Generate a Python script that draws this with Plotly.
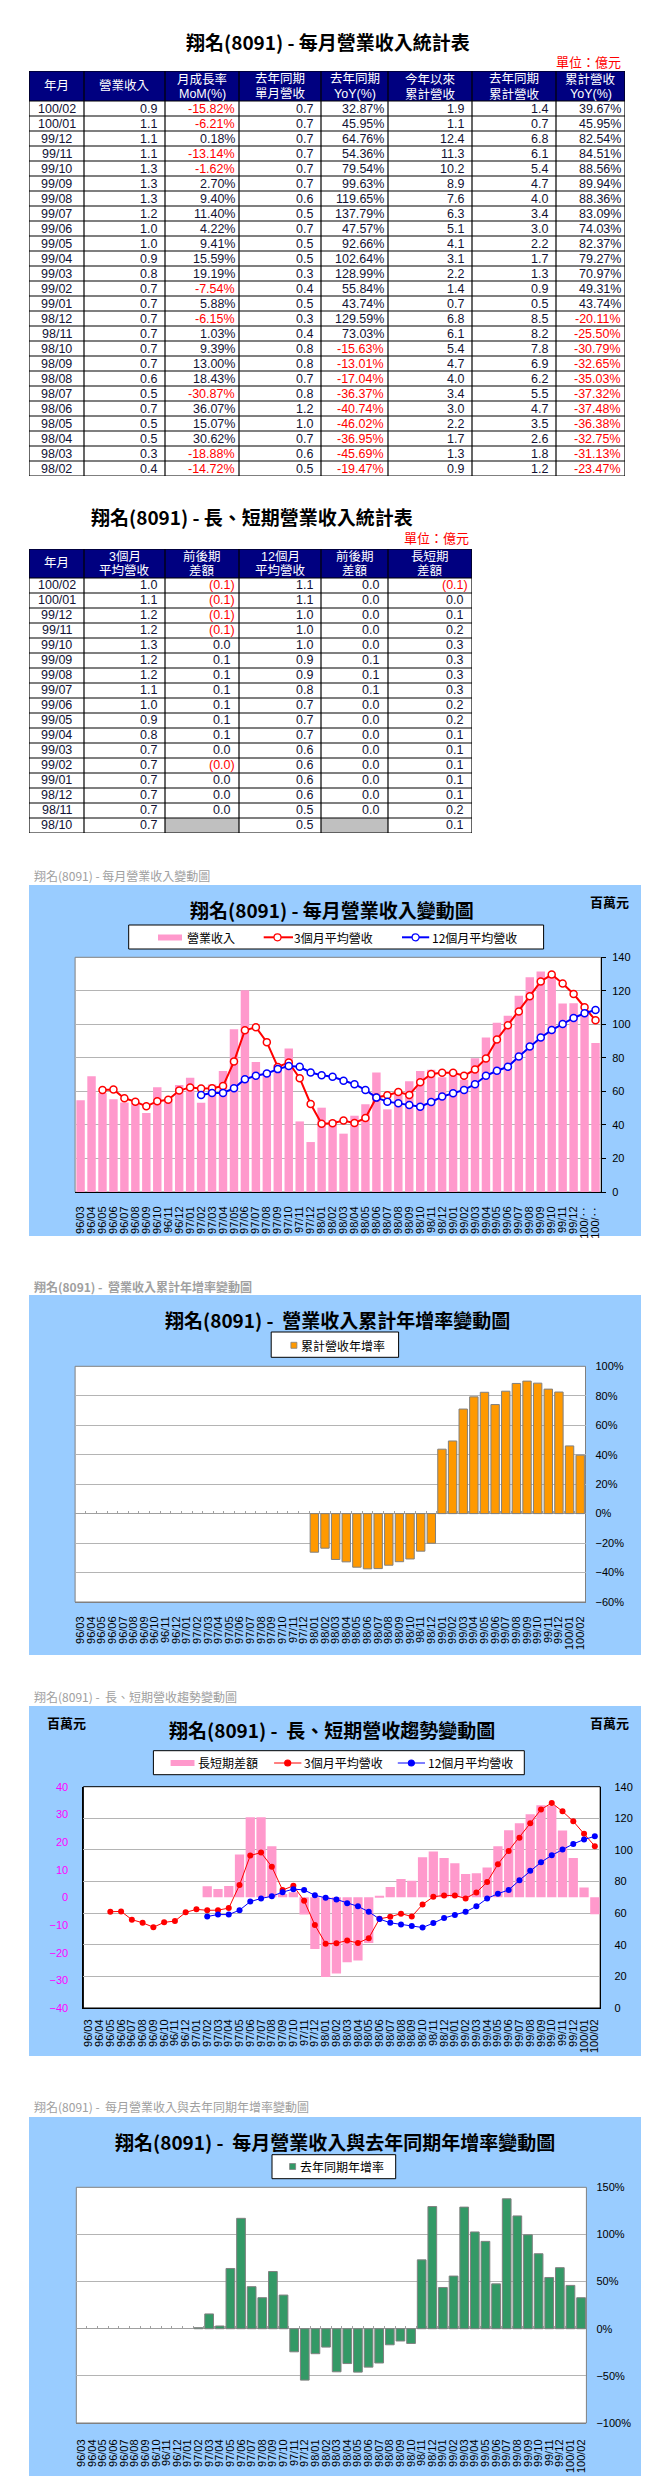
import plotly.graph_objects as go

W, H = 657, 2478

# ---------------- table 1: monthly revenue statistics ----------------
t1_month = ['100/02', '100/01', '99/12', '99/11', '99/10', '99/09', '99/08', '99/07', '99/06',
            '99/05', '99/04', '99/03', '99/02', '99/01', '98/12', '98/11', '98/10', '98/09',
            '98/08', '98/07', '98/06', '98/05', '98/04', '98/03', '98/02']
t1_rev = [0.9, 1.1, 1.1, 1.1, 1.3, 1.3, 1.3, 1.2, 1.0, 1.0, 0.9, 0.8, 0.7, 0.7, 0.7, 0.7, 0.7,
          0.7, 0.6, 0.5, 0.7, 0.5, 0.5, 0.3, 0.4]
t1_mom = [-15.82, -6.21, 0.18, -13.14, -1.62, 2.70, 9.40, 11.40, 4.22, 9.41, 15.59, 19.19, -7.54,
          5.88, -6.15, 1.03, 9.39, 13.00, 18.43, -30.87, 36.07, 15.07, 30.62, -18.88, -14.72]
t1_ly_rev = [0.7, 0.7, 0.7, 0.7, 0.7, 0.7, 0.6, 0.5, 0.7, 0.5, 0.5, 0.3, 0.4, 0.5, 0.3, 0.4, 0.8,
             0.8, 0.7, 0.8, 1.2, 1.0, 0.7, 0.6, 0.5]
t1_yoy = [32.87, 45.95, 64.76, 54.36, 79.54, 99.63, 119.65, 137.79, 47.57, 92.66, 102.64, 128.99,
          55.84, 43.74, 129.59, 73.03, -15.63, -13.01, -17.04, -36.37, -40.74, -46.02, -36.95,
          -45.69, -19.47]
t1_ytd = [1.9, 1.1, 12.4, 11.3, 10.2, 8.9, 7.6, 6.3, 5.1, 4.1, 3.1, 2.2, 1.4, 0.7, 6.8, 6.1, 5.4,
          4.7, 4.0, 3.4, 3.0, 2.2, 1.7, 1.3, 0.9]
t1_ly_ytd = [1.4, 0.7, 6.8, 6.1, 5.4, 4.7, 4.0, 3.4, 3.0, 2.2, 1.7, 1.3, 0.9, 0.5, 8.5, 8.2, 7.8,
             6.9, 6.2, 5.5, 4.7, 3.5, 2.6, 1.8, 1.2]
t1_ytd_yoy = [39.67, 45.95, 82.54, 84.51, 88.56, 89.94, 88.36, 83.09, 74.03, 82.37, 79.27, 70.97,
              49.31, 43.74, -20.11, -25.50, -30.79, -32.65, -35.03, -37.32, -37.48, -36.38,
              -32.75, -31.13, -23.47]
t1_headers = ['年月', '營業收入', '月成長率\nMoM(%)', '去年同期\n單月營收', '去年同期\nYoY(%)',
              '今年以來\n累計營收', '去年同期\n累計營收', '累計營收\nYoY(%)']

# ---------------- table 2: long / short term statistics ----------------
t2_month = ['100/02', '100/01', '99/12', '99/11', '99/10', '99/09', '99/08', '99/07', '99/06',
            '99/05', '99/04', '99/03', '99/02', '99/01', '98/12', '98/11', '98/10']
t2_avg3 = [1.0, 1.1, 1.2, 1.2, 1.3, 1.2, 1.2, 1.1, 1.0, 0.9, 0.8, 0.7, 0.7, 0.7, 0.7, 0.7, 0.7]
t2_avg3_diff = [-0.1, -0.1, -0.1, -0.1, 0.0, 0.1, 0.1, 0.1, 0.1, 0.1, 0.1, 0.0, -0.02, 0.0, 0.0,
                0.0, None]
t2_avg12 = [1.1, 1.1, 1.0, 1.0, 1.0, 0.9, 0.9, 0.8, 0.7, 0.7, 0.7, 0.6, 0.6, 0.6, 0.6, 0.5, 0.5]
t2_avg12_diff = [0.0, 0.0, 0.0, 0.0, 0.0, 0.1, 0.1, 0.1, 0.0, 0.0, 0.0, 0.0, 0.0, 0.0, 0.0, 0.0,
                 None]
t2_ls_diff = [-0.1, 0.0, 0.1, 0.2, 0.3, 0.3, 0.3, 0.3, 0.2, 0.2, 0.1, 0.1, 0.1, 0.1, 0.1, 0.2, 0.1]
t2_headers = ['年月', '3個月\n平均營收', '前後期\n差額', '12個月\n平均營收', '前後期\n差額', '長短期\n差額']

# ---------------- chart series (百萬元 / %) ----------------
months = ['96/03', '96/04', '96/05', '96/06', '96/07', '96/08', '96/09', '96/10', '96/11', '96/12',
          '97/01', '97/02', '97/03', '97/04', '97/05', '97/06', '97/07', '97/08', '97/09', '97/10',
          '97/11', '97/12',
          '98/01', '98/02', '98/03', '98/04', '98/05', '98/06', '98/07', '98/08', '98/09', '98/10',
          '98/11', '98/12',
          '99/01', '99/02', '99/03', '99/04', '99/05', '99/06', '99/07', '99/08', '99/09', '99/10',
          '99/11', '99/12',
          '100/01', '100/02']
month_labels_c1 = ['96/03', '96/04', '96/05', '96/06', '96/07', '96/08', '96/09', '96/10', '96/11',
                   '96/12', '97/01', '97/02', '97/03', '97/04', '97/05', '97/06', '97/07', '97/08',
                   '97/09', '97/10', '97/11', '97/12', '98/01', '98/02', '98/03', '98/04', '98/05',
                   '98/06', '98/07', '98/08', '98/09', '98/10', '98/11', '98/12', '99/01', '99/02',
                   '99/03', '99/04', '99/05', '99/06', '99/07', '99/08', '99/09', '99/10', '99/11',
                   '99/12', '100/‥', '100/‥']
revenue = [54.7, 69.0, 59.0, 55.3, 53.4, 52.9, 47.1, 62.5, 55.3, 63.8,
           68.2, 53.3, 64.1, 72.2, 97.1, 120.3, 77.5, 70.4, 75.9, 85.6, 42.1, 29.8,
           50.3, 42.9, 34.8, 45.5, 52.4, 71.3, 49.3, 58.4, 66.0, 72.2, 72.9, 68.4,
           72.4, 67.0, 79.8, 92.2, 100.9, 105.1, 117.1, 128.1, 131.5, 129.4, 112.4, 112.6,
           105.6, 88.9]
avg3 = [None, None, 60.9, 61.1, 55.9, 53.9, 51.1, 54.2, 55.0, 60.5,
        62.4, 61.8, 61.9, 63.2, 77.8, 96.5, 98.3, 89.4, 74.6, 77.3, 67.9, 52.5,
        40.7, 41.0, 42.7, 41.1, 44.2, 56.4, 57.7, 59.7, 57.9, 65.5, 70.4, 71.2,
        71.2, 69.3, 73.1, 79.7, 91.0, 99.4, 107.7, 116.8, 125.6, 129.7, 124.4, 118.1,
        110.2, 102.4]
avg12 = [None, None, None, None, None, None, None, None, None, None,
         None, 57.9, 59.1, 59.1, 61.9, 67.3, 69.3, 70.7, 73.3, 75.2, 74.7, 71.3,
         69.7, 68.7, 66.3, 64.3, 60.9, 56.3, 53.9, 52.9, 51.9, 50.9, 53.7, 56.9,
         58.9, 60.9, 64.3, 69.3, 72.3, 74.7, 80.8, 86.8, 92.2, 96.6, 100.2, 103.8,
         106.6, 108.6]
ls_diff = [None, None, None, None, None, None, None, None, None, None,
           None, 4.0, 3.0, 4.1, 15.5, 29.0, 29.0, 18.5, 1.2, 1.8, -6.2, -18.7,
           -28.8, -27.5, -23.5, -22.8, -16.5, 0.3, 3.7, 6.6, 6.0, 14.5, 16.6, 14.2,
           12.3, 8.4, 8.7, 10.8, 18.5, 24.3, 26.8, 30.0, 33.3, 33.0, 24.2, 14.2,
           3.6, -6.1]
cum_yoy = [None, None, None, None, None, None, None, None, None, None,
           None, None, None, None, None, None, None, None, None, None, None, None,
           -26.2, -23.47, -31.13, -32.75, -36.38, -37.48, -37.32, -35.03, -32.65, -30.79, -25.50, -20.11,
           43.74, 49.31, 70.97, 79.27, 82.37, 74.03, 83.09, 88.36, 89.94, 88.56, 84.51, 82.54,
           45.95, 39.67]
yoy = [None, None, None, None, None, None, None, None, None, None,
       None, 1.1, 15.7, 2.9, 63.9, 117.1, 44.6, 32.9, 60.7, 35.7, -24.5, -54.5,
       -26.5, -19.47, -45.69, -36.95, -46.02, -40.74, -36.37, -17.04, -13.01, -15.63, 73.03, 129.59,
       43.74, 55.84, 128.99, 102.64, 92.66, 47.57, 137.79, 119.65, 99.63, 79.54, 54.36, 64.76,
       45.95, 32.87]

# ---------------- styles ----------------
CJK = 'Noto Sans CJK TC'
LAT = 'Liberation Sans, Arial, Noto Sans CJK TC, sans-serif'
NAVY = '#000080'
INK = '#111133'
RED = '#FF0000'
PANEL = '#99CCFF'
GRID = '#B4B4B4'
PINK = '#FF99CC'


def px(x):
    return x / W


def py(y):
    return 1 - y / H


shapes = []
annotations = []


def ann(text, x, y, size, color='black', family=CJK, xanchor='center', yanchor='middle',
        xref='paper', yref='paper'):
    annotations.append(dict(text=text, x=x, y=y, xref=xref, yref=yref, xanchor=xanchor,
                            yanchor=yanchor, showarrow=False, borderpad=0,
                            font=dict(family=family, size=size, color=color)))


def pann(text, x, y, size, **kw):
    ann(text, px(x), py(y), size, **kw)


def prect(x0, y0, x1, y1, fill, line_color=None, lw=1, layer='above'):
    shapes.append(dict(type='rect', xref='paper', yref='paper', x0=px(x0), x1=px(x1),
                       y0=py(y1), y1=py(y0), fillcolor=fill, layer=layer,
                       line=dict(color=line_color or fill, width=lw if line_color else 0)))


def pline(x0, y0, x1, y1, color, lw):
    shapes.append(dict(type='line', xref='paper', yref='paper', x0=px(x0), x1=px(x1),
                       y0=py(y0), y1=py(y1), line=dict(color=color, width=lw), layer='above'))


def pcircle(cx, cy, r, fill, color, lw=1.2):
    shapes.append(dict(type='circle', xref='paper', yref='paper', x0=px(cx - r), x1=px(cx + r),
                       y0=py(cy + r), y1=py(cy - r), fillcolor=fill,
                       line=dict(color=color, width=lw), layer='above'))


def fmt_cell(kind, v):
    if v is None:
        return '', INK, 0
    if kind == 'label':
        return v, INK, None
    if kind == 'num':
        return f'{v:.1f}', INK, 7.5
    if kind == 'pct':
        return f'{v:.2f}%', (RED if v < 0 else INK), 3.5
    if kind == 'acc':
        if v < 0:
            return f'({abs(v):.1f})', RED, 3
        return f'{v:.1f}', INK, 8.5
    return str(v), INK, 3


def build_table(xref, yref, edges, top, head_h, row_h, headers, cols, kinds):
    n = len(cols[0])
    bottom = top + head_h + n * row_h
    shapes.append(dict(type='rect', xref=xref, yref=yref, x0=edges[0], x1=edges[-1], y0=top,
                       y1=top + head_h, fillcolor=NAVY, line=dict(width=0), layer='above'))
    for c, col in enumerate(cols):
        for r, v in enumerate(col):
            if v is None:
                y0 = top + head_h + r * row_h
                shapes.append(dict(type='rect', xref=xref, yref=yref, x0=edges[c], x1=edges[c + 1],
                                   y0=y0, y1=y0 + row_h, fillcolor='#C0C0C0',
                                   line=dict(width=0), layer='above'))
    ys = [top, top + head_h] + [top + head_h + (r + 1) * row_h for r in range(n)]
    for yv in ys:
        shapes.append(dict(type='line', xref=xref, yref=yref, x0=edges[0], x1=edges[-1], y0=yv,
                           y1=yv, line=dict(color='black', width=1.2), layer='above'))
    for xv in edges:
        shapes.append(dict(type='line', xref=xref, yref=yref, x0=xv, x1=xv, y0=top, y1=bottom,
                           line=dict(color='black', width=1.2), layer='above'))
    for c, h in enumerate(headers):
        xc = (edges[c] + edges[c + 1]) / 2
        parts = h.split('\n')
        if len(parts) == 1:
            ann(parts[0], xc, top + head_h / 2, 12.5, color='white', family=LAT, xref=xref, yref=yref)
        else:
            ann(parts[0], xc, top + head_h * 0.27, 12.5, color='white', family=LAT, xref=xref, yref=yref)
            ann(parts[1], xc, top + head_h * 0.77, 12.5, color='white', family=LAT, xref=xref, yref=yref)
    for c, (kind, col) in enumerate(zip(kinds, cols)):
        for r, v in enumerate(col):
            text, color, pad = fmt_cell(kind, v)
            if not text:
                continue
            yc = top + head_h + (r + 0.5) * row_h
            if pad is None:
                ann(text, (edges[c] + edges[c + 1]) / 2, yc, 12.5, color=color, family=LAT,
                    xref=xref, yref=yref)
            else:
                ann(text, edges[c + 1] - pad, yc, 12.5, color=color, family=LAT, xanchor='right',
                    xref=xref, yref=yref)


fig = go.Figure()

# ---------------- tables ----------------
T1_EDGES = [21, 76, 157, 231, 313, 380, 464, 548, 617]
T1_TOP, T1_HEAD, T1_ROW = 63, 30, 15
T2_EDGES = [21, 76, 157, 231, 313, 380, 464]
T2_TOP, T2_HEAD, T2_ROW = 541, 29, 15

pann('<b>翔名(8091) - 每月營業收入統計表</b>', 319.6, 33.3, 19)
pann('單位：億元', 614, 53, 13, color=RED, xanchor='right')
build_table('x5', 'y6', T1_EDGES, T1_TOP, T1_HEAD, T1_ROW, t1_headers,
            [t1_month, t1_rev, t1_mom, t1_ly_rev, t1_yoy, t1_ytd, t1_ly_ytd, t1_ytd_yoy],
            ['label', 'num', 'pct', 'num', 'pct', 'num', 'num', 'pct'])

pann('<b>翔名(8091) - 長、短期營業收入統計表</b>', 243.7, 508, 19)
pann('單位：億元', 461.7, 529, 13, color=RED, xanchor='right')
build_table('x6', 'y7', T2_EDGES, T2_TOP, T2_HEAD, T2_ROW, t2_headers,
            [t2_month, t2_avg3, t2_avg3_diff, t2_avg12, t2_avg12_diff, t2_ls_diff],
            ['label', 'num', 'acc', 'num', 'acc', 'acc'])

t1_bottom = T1_TOP + T1_HEAD + T1_ROW * len(t1_month)
t2_bottom = T2_TOP + T2_HEAD + T2_ROW * len(t2_month)
for xa, ya in (('x5', 'y6'), ('x6', 'y7')):
    fig.add_trace(go.Scatter(x=[None], y=[None], xaxis=xa, yaxis=ya, showlegend=False,
                             hoverinfo='skip'))

# ---------------- chart geometry ----------------
PANEL_X = (21, 633)
C1 = dict(panel=(877, 1228), plot=(67.1, 593.0, 949.3, 1184))
C2 = dict(panel=(1287, 1647), plot=(67.1, 577.5, 1358.3, 1594))
C3 = dict(panel=(1698, 2048), plot=(75.4, 592.2, 1778.7, 2000))
C4 = dict(panel=(2109, 2468), plot=(68.3, 578.4, 2179.3, 2415))

for c in (C1, C2, C3, C4):
    prect(PANEL_X[0], c['panel'][0], PANEL_X[1], c['panel'][1], PANEL, layer='below')

for xa, ya, border in (('x', 'y', '#808080'), ('x2', 'y2', '#808080'), ('x3', 'y3', '#000000'),
                       ('x4', 'y5', '#808080')):
    shapes.append(dict(type='rect', xref=xa + ' domain', yref=ya + ' domain', x0=0, x1=1, y0=0,
                       y1=1, fillcolor='white', line=dict(color=border, width=1), layer='below'))

# captions above each chart
pann('翔名(8091) - 每月營業收入變動圖', 25, 867, 12, color='#A0A0A0', xanchor='left')
pann('<b>翔名(8091) -  營業收入累計年增率變動圖</b>', 25, 1278, 12, color='#A0A0A0', xanchor='left')
pann('翔名(8091) -  長、短期營收趨勢變動圖', 25, 1688, 12, color='#A0A0A0', xanchor='left')
pann('翔名(8091) -  每月營業收入與去年同期年增率變動圖', 25, 2098, 12, color='#A0A0A0', xanchor='left')

# chart titles
pann('<b>翔名(8091) - 每月營業收入變動圖</b>', 323.8, 901.7, 19)
pann('<b>翔名(8091) -  營業收入累計年增率變動圖</b>', 329.6, 1311.7, 19)
pann('<b>翔名(8091) -  長、短期營收趨勢變動圖</b>', 324.4, 1721.7, 19)
pann('<b>翔名(8091) -  每月營業收入與去年同期年增率變動圖</b>', 326.5, 2133.3, 19)
pann('<b>百萬元</b>', 601.4, 893.3, 13)
pann('<b>百萬元</b>', 58.7, 1714, 13)
pann('<b>百萬元</b>', 601.4, 1714, 13)

# legends
prect(120.7, 917, 535.6, 941, 'white', 'black')
prect(150, 926.5, 174, 932.5, PINK)
pann('營業收入', 178.1, 929.3, 12, xanchor='left')
pline(255.7, 929.3, 285, 929.3, RED, 2)
pcircle(269.5, 929.3, 3.5, 'white', RED)
pann('3個月平均營收', 285, 929.3, 12, xanchor='left')
pline(394, 929.3, 421.2, 929.3, '#0000FF', 2)
pcircle(407.6, 929.3, 3.5, 'white', '#0000FF')
pann('12個月平均營收', 422.5, 929.3, 12, xanchor='left')

prect(263.2, 1324, 390.6, 1349.3, 'white', 'black')
prect(282.9, 1334.3, 288.9, 1340.3, '#FF9900', '#808080', 0.8)
pann('累計營收年增率', 292.1, 1337.5, 12, xanchor='left')

prect(145.4, 1742.7, 516.3, 1766.7, 'white', 'black')
prect(162.6, 1752, 186.5, 1758, PINK)
pann('長短期差額', 189.4, 1755, 12, xanchor='left')
pline(266.1, 1755, 293.4, 1755, RED, 1)
pcircle(279.7, 1755, 3, RED, RED)
pann('3個月平均營收', 294.6, 1755, 12, xanchor='left')
pline(389.8, 1755, 417, 1755, '#0000FF', 1)
pcircle(403.4, 1755, 3, '#0000FF', '#0000FF')
pann('12個月平均營收', 419.1, 1755, 12, xanchor='left')

prect(264, 2146.7, 387.7, 2170.7, 'white', 'black')
prect(281.6, 2155.5, 287.6, 2161.5, '#339966', '#808080', 0.8)
pann('去年同期年增率', 291.3, 2158.7, 12, xanchor='left')

# ---------------- traces ----------------
fig.add_trace(go.Bar(x=months, y=revenue, xaxis='x', yaxis='y', width=0.77,
                     marker=dict(color=PINK, line=dict(width=0)), name='營業收入'))
fig.add_trace(go.Scatter(x=months, y=avg3, xaxis='x', yaxis='y', mode='lines+markers',
                         line=dict(color=RED, width=2), name='3個月平均營收',
                         marker=dict(symbol='circle', size=7, color='white',
                                     line=dict(color=RED, width=1.5))))
fig.add_trace(go.Scatter(x=months, y=avg12, xaxis='x', yaxis='y', mode='lines+markers',
                         line=dict(color='#0000FF', width=2), name='12個月平均營收',
                         marker=dict(symbol='circle', size=7, color='white',
                                     line=dict(color='#0000FF', width=1.5))))

fig.add_trace(go.Bar(x=months, y=cum_yoy, xaxis='x2', yaxis='y2', width=0.79,
                     marker=dict(color='#FF9900', line=dict(color='#808080', width=1)),
                     name='累計營收年增率'))

fig.add_trace(go.Bar(x=months, y=ls_diff, xaxis='x3', yaxis='y3', width=0.86,
                     marker=dict(color=PINK, line=dict(width=0)), name='長短期差額'))
fig.add_trace(go.Scatter(x=months, y=avg3, xaxis='x3', yaxis='y4', mode='lines+markers',
                         line=dict(color=RED, width=1), name='3個月平均營收',
                         marker=dict(symbol='circle', size=6, color=RED)))
fig.add_trace(go.Scatter(x=months, y=avg12, xaxis='x3', yaxis='y4', mode='lines+markers',
                         line=dict(color='#0000FF', width=1), name='12個月平均營收',
                         marker=dict(symbol='circle', size=6, color='#0000FF')))

fig.add_trace(go.Bar(x=months, y=yoy, xaxis='x4', yaxis='y5', width=0.82,
                     marker=dict(color='#339966', line=dict(color='#808080', width=1)),
                     name='去年同期年增率'))

for xa, ya in (('x7', 'y2'), ('x8', 'y5')):
    fig.add_trace(go.Scatter(x=[None], y=[None], xaxis=xa, yaxis=ya, showlegend=False,
                             hoverinfo='skip'))


# ---------------- axes ----------------
def cat_x(c, anchor, ticktext, standoff, linecolor):
    x0, x1, _, _ = c['plot']
    return dict(domain=[px(x0), px(x1)], anchor=anchor, type='category', categoryorder='array',
                categoryarray=months, range=[-0.5, len(months) - 0.5], tickmode='array',
                tickvals=months, ticktext=ticktext, tickangle=-90,
                tickfont=dict(family=LAT, size=11, color='black'), ticks='', showgrid=False,
                zeroline=False, showline=True, linecolor=linecolor, linewidth=1,
                ticklabelstandoff=standoff, fixedrange=True)


def val_y(c, anchor, side, rng, dtick, suffix='', color='black', grid=True, ticks='',
          standoff=3, linecolor=None, zeroline=False, overlaying=None):
    _, _, y0, y1 = c['plot']
    d = dict(domain=[py(y1), py(y0)], anchor=anchor, side=side, range=rng, dtick=dtick,
             tick0=rng[0], ticksuffix=suffix, tickfont=dict(family=LAT, size=11, color=color),
             showgrid=grid, gridcolor=GRID, gridwidth=1, ticks=ticks, ticklen=4,
             tickcolor='black', ticklabelstandoff=standoff, zeroline=zeroline,
             zerolinecolor='#A0A0A0', zerolinewidth=1, showline=linecolor is not None,
             linecolor=linecolor or 'black', linewidth=1, fixedrange=True)
    if overlaying:
        d['overlaying'] = overlaying
    return d


def zero_ticks(c, rng, overlaying):
    x0, x1, y0, y1 = c['plot']
    frac = (0 - rng[0]) / (rng[1] - rng[0])
    pos = py(y1) + frac * (py(y0) - py(y1))
    return dict(domain=[px(x0), px(x1)], overlaying=overlaying, anchor='free', position=pos,
                type='linear', range=[-0.5, len(months) - 0.5], tickmode='array',
                tickvals=[i - 0.5 for i in range(len(months) + 1)], ticks='inside', ticklen=3,
                tickcolor='#A0A0A0', showticklabels=False, showgrid=False, zeroline=False,
                showline=False, layer='below traces', fixedrange=True)


R2 = [-60, 100]
R4 = [-100, 150]

layout = dict(
    width=W, height=H, template='none', showlegend=False,
    margin=dict(l=0, r=0, t=0, b=0, pad=0),
    paper_bgcolor='white', plot_bgcolor='rgba(0,0,0,0)',
    font=dict(family=LAT, size=11, color='black'),
    bargap=0.2, barmode='overlay',
    shapes=shapes, annotations=annotations,
    xaxis=cat_x(C1, 'y', month_labels_c1, 9, '#000000'),
    yaxis=val_y(C1, 'x', 'right', [0, 140], 20, ticks='outside', standoff=4, linecolor='#000000'),
    xaxis2=cat_x(C2, 'y2', months, 9, '#808080'),
    yaxis2=val_y(C2, 'x2', 'right', R2, 20, suffix='%', standoff=9, zeroline=True),
    xaxis3=cat_x(C3, 'y3', months, 6, '#000000'),
    yaxis3=val_y(C3, 'x3', 'left', [-40, 40], 10, color='#FF00FF', grid=False, standoff=12,
                 linecolor='#000000'),
    yaxis4=val_y(C3, 'x3', 'right', [0, 140], 20, standoff=11, linecolor='#000000',
                 overlaying='y3'),
    xaxis4=cat_x(C4, 'y5', months, 11, '#808080'),
    yaxis5=val_y(C4, 'x4', 'right', R4, 50, suffix='%', standoff=9, zeroline=True),
    xaxis7=zero_ticks(C2, R2, 'x2'),
    xaxis8=zero_ticks(C4, R4, 'x4'),
    xaxis5=dict(domain=[px(T1_EDGES[0]), px(T1_EDGES[-1])], range=[T1_EDGES[0], T1_EDGES[-1]],
                anchor='y6', visible=False, fixedrange=True),
    yaxis6=dict(domain=[py(t1_bottom), py(T1_TOP)], range=[t1_bottom, T1_TOP], anchor='x5',
                visible=False, fixedrange=True),
    xaxis6=dict(domain=[px(T2_EDGES[0]), px(T2_EDGES[-1])], range=[T2_EDGES[0], T2_EDGES[-1]],
                anchor='y7', visible=False, fixedrange=True),
    yaxis7=dict(domain=[py(t2_bottom), py(T2_TOP)], range=[t2_bottom, T2_TOP], anchor='x6',
                visible=False, fixedrange=True),
)
fig.update_layout(**layout)
fig.write_html('out.html')
